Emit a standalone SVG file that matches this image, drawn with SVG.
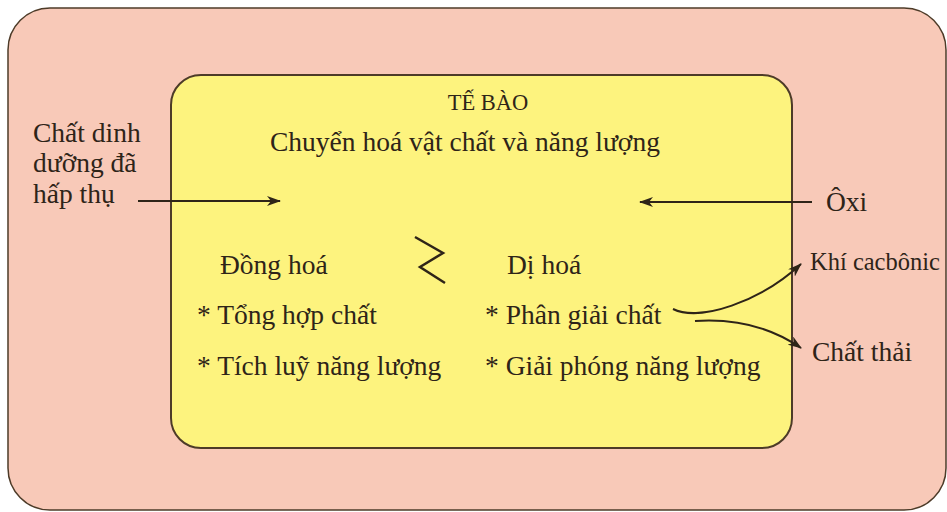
<svg xmlns="http://www.w3.org/2000/svg" width="947" height="512" viewBox="0 0 947 512">
  <style>
    .box { stroke: #4d3b28; }
    .t { font-family: "Liberation Serif", "Times New Roman", serif; fill: #2e2418; font-size: 27.5px; }
    .title { font-size: 22.5px; }
    .small { font-size: 24.5px; }
    .wire { fill: none; stroke: #2e2418; stroke-width: 2; }
  </style>
  <defs>
    <marker id="head" viewBox="0 0 14 10" refX="13" refY="5" markerWidth="14" markerHeight="10" markerUnits="userSpaceOnUse" orient="auto">
      <path d="M0,0 L14,5 L0,10 L4,5 Z" fill="#2e2418"/>
    </marker>
  </defs>

  <!-- environment around the cell -->
  <g id="environment">
    <rect class="box" x="8" y="8" width="938" height="502" rx="42" ry="42" fill="#f8c9b8" stroke-width="1.5"/>
  </g>

  <!-- the cell -->
  <g id="cell">
    <rect class="box" x="171" y="75" width="621" height="373" rx="30" ry="30" fill="#fdf37e" stroke-width="2"/>
    <text class="t title" x="488" y="110" text-anchor="middle">TẾ BÀO</text>
    <text class="t" x="270" y="151">Chuyển hoá vật chất và năng lượng</text>
  </g>

  <g id="input-nutrients">
    <text class="t" x="33" y="142">Chất dinh</text>
    <text class="t" x="33" y="172">dưỡng đã</text>
    <text class="t" x="33" y="203">hấp thụ</text>
  </g>

  <g id="input-oxygen">
    <text class="t" x="826" y="211">Ôxi</text>
  </g>

  <g id="anabolism">
    <text class="t" x="220" y="274">Đồng hoá</text>
    <text class="t" x="197" y="324">* Tổng hợp chất</text>
    <text class="t" x="197" y="375">* Tích luỹ năng lượng</text>
  </g>

  <g id="balance">
    <polyline points="415,237 443,253 420,267 445,283" fill="none" stroke="#2e2418" stroke-width="2.5" stroke-linejoin="miter"/>
  </g>

  <g id="catabolism">
    <text class="t" x="507" y="274">Dị hoá</text>
    <text class="t" x="485" y="324">* Phân giải chất</text>
    <text class="t" x="485" y="375">* Giải phóng năng lượng</text>
  </g>

  <g id="output-co2">
    <text class="t small" x="810" y="270">Khí cacbônic</text>
  </g>

  <g id="output-waste">
    <text class="t" x="812" y="361">Chất thải</text>
  </g>

  <!-- connectors -->
  <g id="connectors">
    <line class="wire" x1="138" y1="201" x2="280" y2="201" marker-end="url(#head)"/>
    <line class="wire" x1="812" y1="202" x2="640" y2="202" marker-end="url(#head)"/>
    <path class="wire" d="M673,309 C700,322 760,302 801,264" marker-end="url(#head)"/>
    <path class="wire" d="M695,321 C740,318 775,330 801,348" marker-end="url(#head)"/>
  </g>
</svg>
